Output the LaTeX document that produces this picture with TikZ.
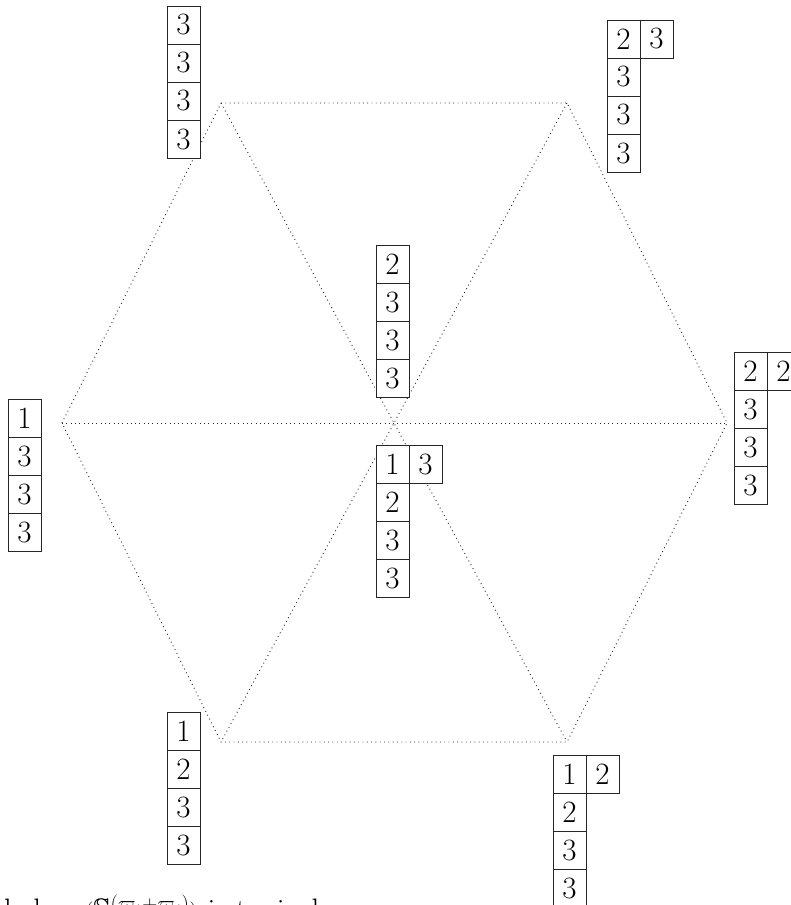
\documentclass[tikz,border=0pt]{standalone}
\usepackage{amssymb}
\begin{document}
\begin{tikzpicture}[x=1pt,y=-1pt,
  cellbox/.style={draw=black!85, line width=1pt, fill=white, minimum width=33pt, minimum height=38pt, inner sep=0pt, font=\fontsize{31}{37}\selectfont},
  hexline/.style={black!85, line width=0.9pt, dash pattern=on 0.9pt off 3.4pt},
  captext/.style={anchor=base west, inner sep=0pt, font=\fontsize{31}{37}\selectfont}]
\clip (0,0) rectangle (791,905);
\useasboundingbox (0,0) rectangle (791,905);
% hexagon vertices
\coordinate (vtl) at (221,103);
\coordinate (vtr) at (567,103);
\coordinate (vr) at (727,423);
\coordinate (vbr) at (567,742);
\coordinate (vbl) at (221,742);
\coordinate (vl) at (62,423);
\coordinate (ctr) at (394,423);
\draw[hexline] (vtl) -- (vtr) -- (vr) -- (vbr) -- (vbl) -- (vl) -- cycle;
\draw[hexline] (vtl) -- (ctr) -- (vbr);
\draw[hexline] (vtr) -- (ctr) -- (vbl);
\draw[hexline] (vl) -- (ctr) -- (vr);
% top-left tableau
\node[cellbox] (a1) at (183.5,25) {3};
\node[cellbox] (a2) at (183.5,63) {3};
\node[cellbox] (a3) at (183.5,101) {3};
\node[cellbox] (a4) at (183.5,139) {3};
% top-right tableau
\node[cellbox] (b1) at (623.5,39) {2};
\node[cellbox] (b12) at (656.5,39) {3};
\node[cellbox] (b2) at (623.5,77) {3};
\node[cellbox] (b3) at (623.5,115) {3};
\node[cellbox] (b4) at (623.5,153) {3};
% centre top tableau
\node[cellbox] (c1) at (392.5,264) {2};
\node[cellbox] (c2) at (392.5,302) {3};
\node[cellbox] (c3) at (392.5,340) {3};
\node[cellbox] (c4) at (392.5,378) {3};
% centre bottom tableau
\node[cellbox] (d1) at (392.5,464) {1};
\node[cellbox] (d12) at (425.5,464) {3};
\node[cellbox] (d2) at (392.5,502) {2};
\node[cellbox] (d3) at (392.5,540) {3};
\node[cellbox] (d4) at (392.5,578) {3};
% right tableau
\node[cellbox] (e1) at (750.5,371) {2};
\node[cellbox] (e12) at (783.5,371) {2};
\node[cellbox] (e2) at (750.5,409) {3};
\node[cellbox] (e3) at (750.5,447) {3};
\node[cellbox] (e4) at (750.5,485) {3};
% left tableau
\node[cellbox] (f1) at (24.5,418) {1};
\node[cellbox] (f2) at (24.5,456) {3};
\node[cellbox] (f3) at (24.5,494) {3};
\node[cellbox] (f4) at (24.5,532) {3};
% bottom-left tableau
\node[cellbox] (g1) at (183.5,731) {1};
\node[cellbox] (g2) at (183.5,769) {2};
\node[cellbox] (g3) at (183.5,807) {3};
\node[cellbox] (g4) at (183.5,845) {3};
% bottom-right tableau
\node[cellbox] (h1) at (569.5,774) {1};
\node[cellbox] (h12) at (602.5,774) {2};
\node[cellbox] (h2) at (569.5,812) {2};
\node[cellbox] (h3) at (569.5,850) {3};
\node[cellbox] (h4) at (569.5,888) {3};
% clipped caption
\node[captext] (cap) at (4,920) {below $(\mathbb{S}^{(\varpi_1+\varpi_4)})$ is typical};
\end{tikzpicture}
\end{document}
